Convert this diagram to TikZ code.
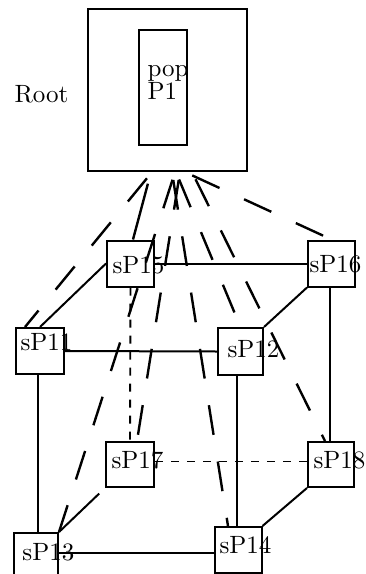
\documentclass[tikz,border=0pt]{standalone}
\begin{document}
\begin{tikzpicture}[x=1pt,y=-1pt,
  cell/.style={draw, line width=2pt, inner sep=0pt, minimum width=47pt, minimum height=46pt},
  tag/.style={anchor=base west, inner sep=0pt, scale=2.5, font=\fontsize{10}{12}\selectfont},
  edge/.style={line width=2pt},
  hidden/.style={line width=1.9pt, dash pattern=on 8pt off 8pt},
  feed/.style={line width=2.4pt, dash pattern=on 30pt off 27pt, dash phase=49pt}]
\useasboundingbox (0,0) rectangle (366,574);
\clip (0,0) rectangle (366,574);

% root processor with its population
\node[draw, line width=2.2pt, inner sep=0pt, minimum width=159pt, minimum height=162pt] (root) at (167.5,90) {};
\node[draw, line width=2pt, inner sep=0pt, minimum width=48pt, minimum height=115pt] (pop) at (163,87.5) {};
\node[tag] (poplbl) at (147,76) {pop};
\node[tag] (p1lbl) at (147,99) {P1};
\node[tag] (rootlbl) at (14,102) {Root};

% sub-processors on the cube
\node[cell] (p15) at (130.5,263.5) {};
\node[cell] (p16) at (331.5,263.5) {};
\node[cell, minimum width=48pt] (p11) at (40,351) {};
\node[cell, minimum width=45pt, minimum height=47pt] (p12) at (240.5,351.5) {};
\node[cell, minimum width=48pt, minimum height=45pt] (p17) at (130,464.5) {};
\node[cell, minimum width=46pt, minimum height=45pt] (p18) at (331,464.5) {};
\node[cell, minimum width=44pt] (p13) at (36,556) {};
\node[cell] (p14) at (238,550) {};

\node[tag] at (112,273) {sP15};
\node[tag] at (309,272) {sP16};
\node[tag] at (20,350) {sP11};
\node[tag] at (227,357) {sP12};
\node[tag] at (111,468) {sP17};
\node[tag] at (313,468) {sP18};
\node[tag] at (22,560) {sP13};
\node[tag] at (219,553) {sP14};

% visible cube edges
\draw[edge] (p15.east) -- (p16.west);
\draw[edge] (p15.west) -- (p11.north);
\draw[edge] (p16.south west) -- (p12.north east);
\draw[edge] (p11.east) -- (p12.west);
\draw[edge] ([xshift=-2pt]p11.south) -- ([xshift=2pt]p13.north);
\draw[edge] ([xshift=-3.5pt]p12.south) -- ([xshift=-1pt]p14.north);
\draw[edge] ([xshift=-1.5pt]p16.south) -- ([xshift=-1pt]p18.north);
\draw[edge] (p18.south west) -- (p14.north east);
\draw[edge, shorten >=8pt] (p13.north east) -- (p17.south west);
\draw[edge] ([yshift=3pt]p13.east) -- ([yshift=-3pt]p14.west);

% hidden cube edges
\draw[hidden] (p15.south) -- (p17.north);
\draw[hidden] ([yshift=3pt]p17.east) -- ([yshift=3pt]p18.west);

% links from the root to every sub-processor
\draw[feed] ([xshift=-15.5pt]root.south) -- ([xshift=-15pt]p11.north);
\draw[line width=2.4pt, dash pattern=on 60pt off 12pt, dash phase=60pt]
  ([xshift=-16.5pt]root.south) -- ([xshift=2.5pt]p15.north);
\draw[feed] ([xshift=7.5pt]root.south) -- (p13.north east);
\draw[feed] ([xshift=12.5pt]root.south) -- ([xshift=7pt]p17.north);
\draw[feed] ([xshift=4.5pt]root.south) -- ([xshift=-10pt]p14.north);
\draw[feed] ([xshift=8.5pt]root.south) -- (p12.north);
\draw[feed] ([xshift=24.5pt]root.south) -- ([xshift=-6pt]p18.north);
\draw[feed] ([xshift=17.5pt]root.south) -- (p16.north);
\end{tikzpicture}
\end{document}
